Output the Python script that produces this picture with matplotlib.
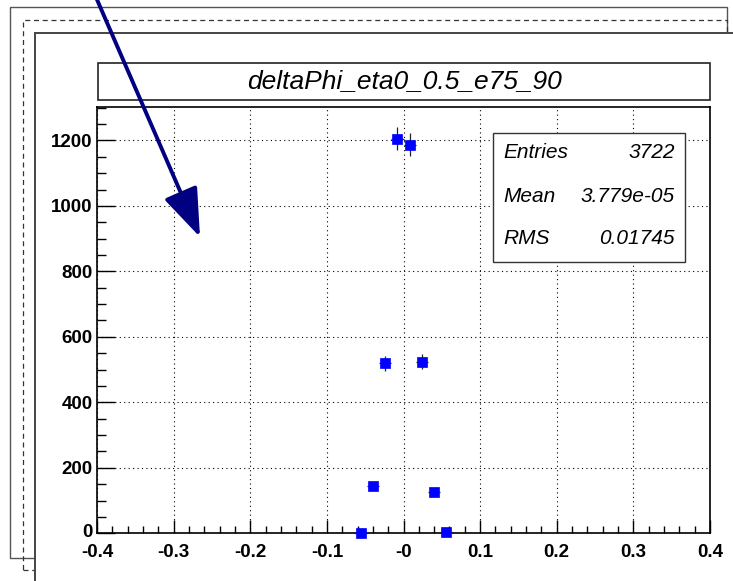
#!/usr/bin/env python3
"""
ROOT-style canvas snapshot of deltaPhi_eta0_0.5_e75_90, redrawn with matplotlib.
Output: out.png (733x581)
"""
import numpy as np
import matplotlib
matplotlib.use("Agg")
import matplotlib.pyplot as plt
import matplotlib.transforms as mtransforms
from matplotlib.patches import Rectangle, FancyArrowPatch
from matplotlib.ticker import MultipleLocator

# histogram content (only non-empty bins, bin width 0.016)
bin_centers = [-0.056, -0.040, -0.024, -0.008, 0.008, 0.024, 0.040, 0.056]
counts = [1, 145, 520, 1205, 1187, 524, 127, 4]
bin_half_width = 0.008

hist_title = "deltaPhi_eta0_0.5_e75_90"
stat_names = ["Entries", "Mean", "RMS"]
stat_values = ["3722", "3.779e-05", "0.01745"]

x_ticks = [-0.4, -0.3, -0.2, -0.1, 0.0, 0.1, 0.2, 0.3, 0.4]
x_tick_labels = ["-0.4", "-0.3", "-0.2", "-0.1", "-0", "0.1", "0.2", "0.3", "0.4"]
y_ticks = [0, 200, 400, 600, 800, 1000, 1200]

W, H = 733, 581
FONT = "Liberation Sans"


def fx(x):
    return x / W


def fy(y):
    return 1 - y / H


def rect(x0, y0, x1, y1, **kw):
    return Rectangle((fx(x0), fy(y1)), fx(x1) - fx(x0), fy(y0) - fy(y1),
                     transform=fig.transFigure, **kw)


fig = plt.figure(figsize=(W / 100, H / 100), dpi=100)
fig.patch.set_facecolor("white")

# canvas / pad frames behind the plot
fig.add_artist(rect(10, 7, 727, 558, fill=False, ec="#555555", lw=1.0, zorder=-3))
fig.add_artist(rect(23, 20, 727, 570, fill=False, ec="#333333", lw=0.9,
                    ls=(0, (4, 3)), zorder=-2))
fig.add_artist(rect(35, 33, 760, 600, fc="white", ec="#444444", lw=1.4, zorder=-1))

ax = fig.add_axes([fx(97), fy(533.3), fx(710) - fx(97), fy(107) - fy(533.3)])
ax.set_facecolor("white")

y = np.array(counts, dtype=float)
ax.errorbar(bin_centers, y, yerr=np.sqrt(y), xerr=bin_half_width,
            fmt="none", ecolor="#222222", elinewidth=0.9, capsize=0,
            zorder=3, clip_on=False)
ax.plot(bin_centers, y, ls="none", marker="s", ms=7, mfc="#0000ff",
        mec="#0000ff", mew=0.5, zorder=4, clip_on=False)

ax.set_xlim(-0.4, 0.4)
ax.set_ylim(0, 1302)
ax.set_xticks(x_ticks)
ax.set_xticklabels(x_tick_labels)
ax.set_yticks(y_ticks)
ax.xaxis.set_minor_locator(MultipleLocator(0.02))
ax.yaxis.set_minor_locator(MultipleLocator(50))

ax.grid(True, which="major", color="black", ls=(0, (1, 3)), lw=0.8)
ax.set_axisbelow(True)
ax.tick_params(axis="x", which="major", direction="in", length=9.5, width=1.0, pad=7.5)
ax.tick_params(axis="x", which="minor", direction="in", length=4.7, width=1.0)
ax.tick_params(axis="y", which="major", direction="in", length=13, width=1.0, pad=3)
ax.tick_params(axis="y", which="minor", direction="in", length=6.5, width=1.0)
ax.tick_params(top=False, right=False, which="both")
for lab in ax.get_xticklabels() + ax.get_yticklabels():
    lab.set_fontfamily(FONT)
    lab.set_fontweight("bold")
    lab.set_fontsize(13.5)
# ROOT puts the y "0" slightly above the x labels
zero_lab = ax.yaxis.get_major_ticks()[0].label1
zero_lab.set_transform(zero_lab.get_transform()
                       + mtransforms.ScaledTranslation(0, 2 / 72, fig.dpi_scale_trans))
for s in ax.spines.values():
    s.set_linewidth(1.2)
    s.set_color("black")

# title box
fig.add_artist(rect(98, 63, 710, 100, fc="white", ec="#222222", lw=1.2, zorder=5))
fig.text(fx(404), fy(81.5), hist_title, ha="center", va="center",
         family=FONT, style="italic", fontsize=19, zorder=6)

# stats box
fig.add_artist(rect(493, 133, 685, 262, fc="white", ec="#333333", lw=1.0, zorder=5))
for i, (name, val) in enumerate(zip(stat_names, stat_values)):
    yy = [153, 196, 238][i]
    fig.text(fx(503), fy(yy), name, ha="left", va="center", family=FONT,
             style="italic", fontsize=15, zorder=6)
    fig.text(fx(675), fy(yy), val, ha="right", va="center", family=FONT,
             style="italic", fontsize=15, zorder=6)

# arrow drawn on the canvas
arrow = FancyArrowPatch((fx(95), fy(-5)), (fx(200), fy(237)),
                        transform=fig.transFigure,
                        arrowstyle="-|>,head_length=30,head_width=11",
                        mutation_scale=1, shrinkA=0, shrinkB=0,
                        color="#000080", lw=2.8, zorder=10)
fig.add_artist(arrow)

fig.savefig("out.png", dpi=100)
